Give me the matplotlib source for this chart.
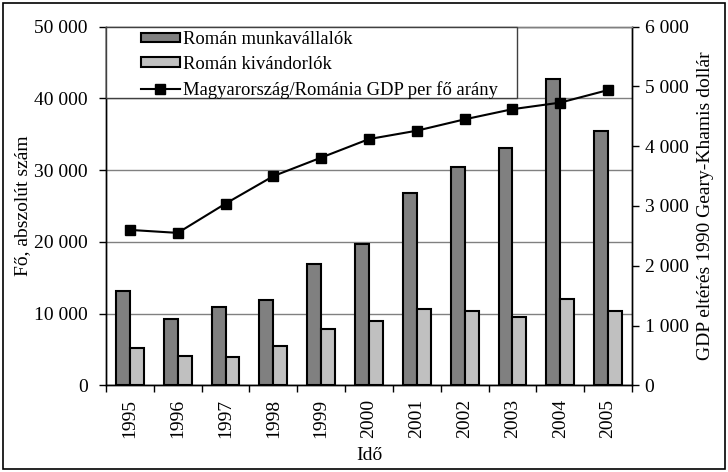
import numpy as np
import matplotlib
matplotlib.use('Agg')
import matplotlib.pyplot as plt
from matplotlib.patches import Rectangle, Patch
from matplotlib.lines import Line2D
from matplotlib.ticker import FuncFormatter

plt.rcParams['font.family'] = ['Liberation Serif', 'DejaVu Serif']
plt.rcParams['font.size'] = 14

# adatok
years = ['1995', '1996', '1997', '1998', '1999', '2000',
         '2001', '2002', '2003', '2004', '2005']
munkavallalok = [13150, 9200, 10900, 11850, 16950, 19750,
                 26800, 30450, 33100, 42750, 35400]
kivandorlok = [5150, 4150, 3950, 5500, 7800, 8900,
               10600, 10300, 9550, 12100, 10300]
gdp_arany = [2600, 2550, 3040, 3500, 3810, 4120,
             4260, 4450, 4620, 4730, 4940]

label_munka = 'Román munkavállalók'
label_kiv = 'Román kivándorlók'
label_gdp = 'Magyarország/Románia GDP per fő arány'


def ezres(v, pos):
    return f"{int(v):,}".replace(',', ' ')


fig = plt.figure(figsize=(7.28, 4.72), dpi=100)
ax1 = fig.add_axes([106 / 728, 1 - 385.3 / 472, 526 / 728, 358.6 / 472])
ax2 = ax1.twinx()

x = np.arange(len(years))
w = 0.29
ax1.bar(x - w / 2, munkavallalok, w, color='#808080', edgecolor='black', linewidth=1.5, zorder=3)
ax1.bar(x + w / 2, kivandorlok, w, color='#c0c0c0', edgecolor='black', linewidth=1.5, zorder=3)
ax1.set_ylim(0, 50000)
ax1.set_xlim(-0.5, len(years) - 0.5)
ax1.set_yticks(np.arange(0, 50001, 10000))
ax1.yaxis.set_major_formatter(FuncFormatter(ezres))
ax1.grid(axis='y', color='#808080', linewidth=1)
ax1.set_axisbelow(True)

# x tengely: osztások a kategóriák között, feliratok középen
ax1.set_xticks(np.arange(-0.5, len(years), 1))
ax1.set_xticklabels([])
ax1.set_xticks(x, minor=True)
ax1.set_xticklabels(years, minor=True, rotation=90)
ax1.tick_params(axis='x', which='major', direction='out', length=5, width=1, color='black')
ax1.tick_params(axis='x', which='minor', length=0, pad=10)
ax1.tick_params(axis='y', direction='out', length=5, width=1, pad=8)
ax1.set_xlabel('Idő', fontsize=14, labelpad=6)
ax1.set_ylabel('Fő, abszolút szám', fontsize=14, labelpad=2)

ax2.plot(x, gdp_arany, color='black', linewidth=1.5, marker='s', markersize=7.2, zorder=4)
ax2.set_ylim(0, 6000)
ax2.set_yticks(np.arange(0, 6001, 1000))
ax2.yaxis.set_major_formatter(FuncFormatter(ezres))
ax2.tick_params(axis='y', direction='out', length=5, width=1, pad=4)
ax2.set_ylabel('GDP eltérés 1990 Geary-Khamis dollár', fontsize=14, labelpad=6)

for ax in (ax1, ax2):
    ax.spines['top'].set_color('#808080')
    ax.spines['left'].set_color('black')
    ax.spines['right'].set_color('black')
    ax.spines['bottom'].set_color('black')
    for s in ax.spines.values():
        s.set_linewidth(1)

# jelmagyarázat kerete
ax2.add_patch(Rectangle((0, 0.800), 0.781, 0.2, transform=ax2.transAxes,
                        facecolor='white', edgecolor='#404040', linewidth=1,
                        zorder=5, clip_on=False))
handles = [Patch(facecolor='#808080', edgecolor='black', linewidth=1.5),
           Patch(facecolor='#c0c0c0', edgecolor='black', linewidth=1.5),
           Line2D([], [], color='black', linewidth=1.5, marker='s', markersize=7.2)]
leg = ax2.legend(handles, [label_munka, label_kiv, label_gdp],
                 loc='upper left', bbox_to_anchor=(0.066, 0.988),
                 frameon=False, borderpad=0, borderaxespad=0,
                 handlelength=2.1, handleheight=0.42, handletextpad=0.15,
                 labelspacing=0.42, fontsize=13.4)
leg.set_zorder(6)

# külső keret
fig.patches.append(Rectangle((3 / 728, 3 / 472), 722 / 728, 466 / 472,
                             transform=fig.transFigure, fill=False,
                             edgecolor='black', linewidth=1.2))

fig.savefig('out.png', dpi=100)
